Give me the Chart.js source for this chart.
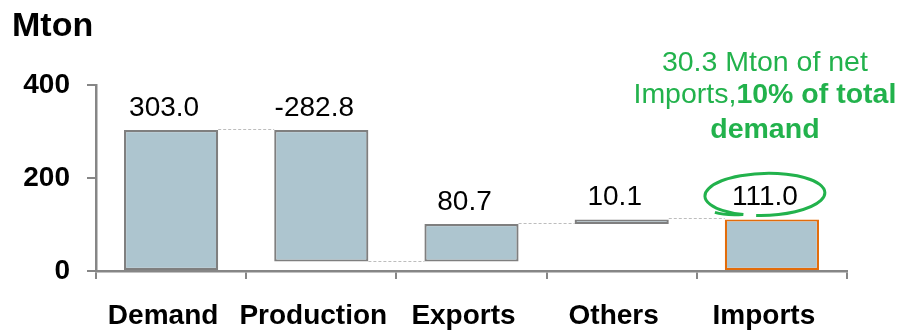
<!DOCTYPE html>
<html>
<head>
<meta charset="utf-8">
<script src="https://cdn.jsdelivr.net/npm/chart.js@4/dist/chart.umd.min.js"></script>
<style>
  html, body { margin: 0; padding: 0; background: #ffffff; }
  #wrap { width: 901px; height: 333px; }
</style>
</head>
<body>
<div id="wrap"><canvas id="c" width="901" height="333"></canvas></div>
<script>
// ---- Data ----
const categories = ['Demand', 'Production', 'Exports', 'Others', 'Imports'];
const values = [303.0, -282.8, 80.7, 10.1, 111.0];
const isTotal = [true, false, false, false, true];
const valueLabels = ['303.0', '-282.8', '80.7', '10.1', '111.0'];
const yTicks = [0, 200, 400];
const unitTitle = 'Mton';
const noteLine1 = '30.3 Mton of net';
const noteLine2a = 'Imports,';
const noteLine2b = '10% of total';
const noteLine3 = 'demand';

// Build floating ranges for waterfall
const ranges = [];
let running = 0;
values.forEach((v, i) => {
  if (isTotal[i]) { ranges.push([0, v]); running = v; }
  else { ranges.push([running, +(running + v).toFixed(1)]); running = +(running + v).toFixed(1); }
});

const FONT = 'Arial, "Liberation Sans", Helvetica, sans-serif';
const GREEN = '#22B24C';
const AXIS = '#868686';

const overlay = {
  id: 'overlay',
  afterDatasetsDraw(chart) {
    const ctx = chart.ctx;
    const y = chart.scales.y;
    const meta = chart.getDatasetMeta(0);
    ctx.save();
    // connectors
    ctx.strokeStyle = '#BDBDBD';
    ctx.lineWidth = 1;
    ctx.setLineDash([3, 2]);
    for (let i = 0; i < ranges.length - 1; i++) {
      const a = meta.data[i], b = meta.data[i + 1];
      const py = Math.round(y.getPixelForValue(ranges[i][1])) - 0.5;
      ctx.beginPath();
      ctx.moveTo(a.x + a.width / 2, py);
      ctx.lineTo(b.x - b.width / 2, py);
      ctx.stroke();
    }
    ctx.setLineDash([]);
    // value labels
    ctx.fillStyle = '#000';
    ctx.font = '28px ' + FONT;
    ctx.textAlign = 'center';
    ctx.textBaseline = 'middle';
    const labelY = [];
    for (let i = 0; i < ranges.length; i++) {
      const top = y.getPixelForValue(Math.max(ranges[i][0], ranges[i][1]));
      const ly = top - 22;
      labelY.push(ly);
      ctx.fillText(valueLabels[i], meta.data[i].x - 7, ly);
    }
    // ellipse around last label
    const last = ranges.length - 1;
    const cx = meta.data[last].x - 7, cy = labelY[last] - 3;
    ctx.strokeStyle = GREEN;
    ctx.lineWidth = 3;
    ctx.beginPath();
    ctx.ellipse(cx, cy, 60, 21, -0.03, 0.62 * Math.PI, 0.62 * Math.PI + 1.93 * Math.PI);
    ctx.stroke();
    ctx.beginPath();
    ctx.moveTo(cx - 22, cy + 20);
    ctx.quadraticCurveTo(cx - 40, cy + 21, cx - 50, cy + 18);
    ctx.stroke();
    // annotation
    const nx = meta.data[last].x - 7;
    const top = chart.chartArea.top;
    const nf = '28.5px ' + FONT;
    const nfb = 'bold 28.5px ' + FONT;
    ctx.fillStyle = GREEN;
    ctx.textAlign = 'left';
    ctx.font = nf;
    const w1 = ctx.measureText(noteLine1).width;
    ctx.fillText(noteLine1, nx - w1 / 2, top - 22);
    const w2a = ctx.measureText(noteLine2a).width;
    ctx.font = nfb;
    const w2b = ctx.measureText(noteLine2b).width;
    const start2 = nx - (w2a + w2b) / 2;
    ctx.font = nf;
    ctx.fillText(noteLine2a, start2, top + 10);
    ctx.font = nfb;
    ctx.fillText(noteLine2b, start2 + w2a, top + 10);
    const w3 = ctx.measureText(noteLine3).width;
    ctx.fillText(noteLine3, nx - w3 / 2, top + 45);
    // unit title
    ctx.fillStyle = '#000';
    ctx.font = 'bold 34px ' + FONT;
    ctx.textBaseline = 'alphabetic';
    ctx.fillText(unitTitle, 12, 36);
    ctx.restore();
  }
};

new Chart(document.getElementById('c'), {
  type: 'bar',
  data: {
    labels: categories,
    datasets: [{
      data: ranges,
      backgroundColor: '#ADC5CF',
      borderColor: categories.map((c, i) => i === categories.length - 1 ? '#E36C0A' : '#7F7F7F'),
      borderWidth: 2.2,
      borderSkipped: false,
      barPercentage: 1.0,
      categoryPercentage: 0.627
    }]
  },
  options: {
    responsive: false,
    devicePixelRatio: 1,
    animation: false,
    layout: { padding: { top: 85, right: 54, bottom: 0, left: 0 } },
    plugins: { legend: { display: false }, tooltip: { enabled: false }, title: { display: false } },
    scales: {
      x: {
        offset: true,
        grid: { display: true, offset: true, drawOnChartArea: false, drawTicks: true, tickLength: 8, color: AXIS, lineWidth: 2 },
        border: { display: true, color: AXIS, width: 2.5 },
        ticks: { color: '#000', font: { family: FONT, size: 28, weight: 'bold' }, padding: 20, labelOffset: -8, maxRotation: 0, autoSkip: false },
        afterFit(s) { s.height = 62; }
      },
      y: {
        min: 0, max: 400,
        afterBuildTicks(s) { s.ticks = yTicks.map(v => ({ value: v })); },
        grid: { display: true, drawOnChartArea: false, drawTicks: true, tickLength: 9, color: AXIS, lineWidth: 2 },
        border: { display: true, color: AXIS, width: 2.5 },
        ticks: { color: '#000', font: { family: FONT, size: 28, weight: 'bold' }, padding: 17 },
        afterFit(s) { s.width = 96; }
      }
    }
  },
  plugins: [overlay]
});
</script>
</body>
</html>
